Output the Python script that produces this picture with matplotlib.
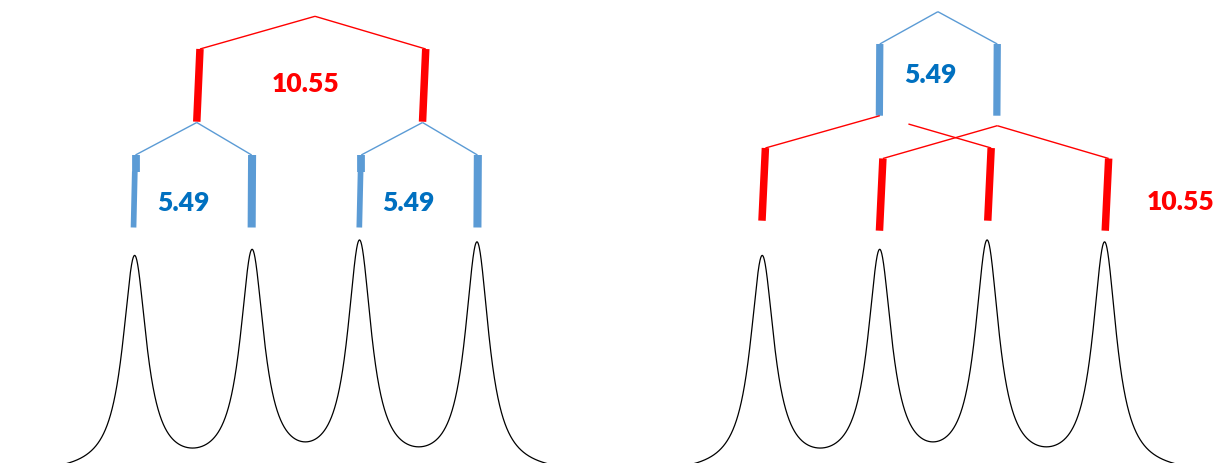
import numpy as np
import matplotlib
matplotlib.use("Agg")
import matplotlib.pyplot as plt

# ---------------- data ----------------
J_LARGE = 10.55          # Hz (red coupling)
J_SMALL = 5.49           # Hz (blue coupling)
label_large = "10.55"
label_small = "5.49"
# spectrum: four lines of the doublet of doublets (Hz from multiplet centre)
peak_pos_hz = [-8.00, -2.51, 2.51, 8.00]
peak_height = [0.941, 0.952, 0.993, 1.000]
peak_fwhm_hz = 1.35
spec_range_hz = 11.25

# ---------------- style / layout ----------------
RED = "#FF0000"
BLUE = "#5B9BD5"
BLUE_TXT = "#0070C0"
W, H, DPI = 1215, 464, 100
PX_PER_HZ = 21.4
BASE_Y = -12.0          # spectrum baseline (layout units, 0 = bottom edge)
SPEC_SCALE = 228.5
FS = 19

plt.rcParams['font.family'] = ['Lato', 'DejaVu Sans']

fig = plt.figure(figsize=(W / DPI, H / DPI), dpi=DPI)


def make_ax(left_px, width_px, centre_px):
    ax = fig.add_axes([left_px / W, 0, width_px / W, 1])
    ax.set_xlim(-centre_px / PX_PER_HZ, (width_px - centre_px) / PX_PER_HZ)
    ax.set_ylim(0, H)
    ax.axis('off')
    return ax


def spectrum(ax):
    x = np.linspace(-spec_range_hz, spec_range_hz, 3000)
    g = peak_fwhm_hz / 2.0
    y = np.zeros_like(x)
    for p, h in zip(peak_pos_hz, peak_height):
        y += h * g ** 2 / ((x - p) ** 2 + g ** 2)
    ax.plot(x, BASE_Y + SPEC_SCALE * y, color='black', lw=0.9)


def bar(ax, xb, xt, yb, yt, color, lw):
    ax.plot([xb, xt], [yb, yt], color=color, lw=lw, solid_capstyle='butt')


def link(ax, x0, y0, x1, y1, color, lw=1.0, start=0.0):
    xs = x0 + (x1 - x0) * start
    ys = y0 + (y1 - y0) * start
    ax.plot([xs, x1], [ys, y1], color=color, lw=lw, solid_capstyle='butt')


def label(ax, x, y, s, color):
    ax.text(x, y, s, color=color, fontsize=FS, fontweight='heavy',
            ha='center', va='center')


# ======== left panel: large coupling first ========
axL = make_ax(0, 607.5, 305.8)
spectrum(axL)

apex = (0.43, 446.7)
red_top_y, red_bot_y = 414.0, 341.3
blue_top_y, blue_bot_y = 308.0, 235.5
blue_cap_y = 291.5
for s in (-1, 1):
    xc = s * J_LARGE / 2
    xt, xb = xc + 0.33, xc + 0.18
    link(axL, apex[0], apex[1], xt, red_top_y, RED)
    bar(axL, xb, xt, red_bot_y, red_top_y, RED, 5.4)
    for k in (-1, 1):
        xbar = xc + k * J_SMALL / 2
        link(axL, xb, red_bot_y - 0.8, xbar + 0.06 * (k < 0), blue_top_y, BLUE)
        if k < 0:
            bar(axL, xbar - 0.03, xbar + 0.03, blue_bot_y, blue_cap_y, BLUE, 4.1)
            bar(axL, xbar + 0.07, xbar + 0.07, blue_cap_y, blue_top_y, BLUE, 5.6)
        else:
            bar(axL, xbar, xbar + 0.02, blue_bot_y, blue_top_y, BLUE, 5.8)
    label(axL, xc - 0.46, 261, label_small, BLUE_TXT)
label(axL, 0.0, 380, label_large, RED)

# ======== right panel: small coupling first ========
axR = make_ax(607.5, 607.5, 933.4 - 607.5)
spectrum(axR)

apexR = (0.21, 451.3)
b_top_y, b_bot_y = 419.0, 347.3
blue_shift = 0.24
red_sets = [  # (link start y offset, red bar top y, red bar bottom y)
    (0.0, 315.0, 242.3),
    (-10.0, 304.5, 232.3),
]
for i, s in enumerate((-1, 1)):
    xb = s * J_SMALL / 2 + blue_shift
    link(axR, apexR[0], apexR[1], xb, b_top_y, BLUE)
    bar(axR, xb - 0.02, xb, b_bot_y, b_top_y, BLUE, 5.2)
    dy, rt, rb = red_sets[i]
    red_c = xb - 0.23
    for k in (-1, 1):
        xbot = red_c + k * J_LARGE / 2
        xtop = xbot + 0.16
        inner = (s < 0 and k > 0)
        link(axR, xb, b_bot_y + dy, xtop, rt, RED, start=0.257 if inner else 0.0)
        bar(axR, xbot, xtop, rb, rt, RED, 5.4)
label(axR, -0.16, 389, label_small, BLUE_TXT)
label(axR, 11.55, 262, label_large, RED)

fig.savefig("out.png", dpi=DPI)
